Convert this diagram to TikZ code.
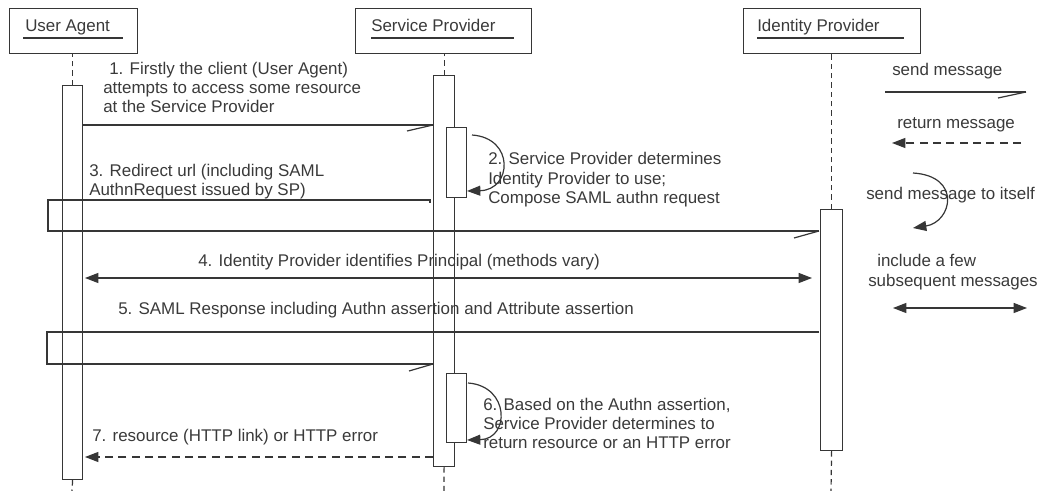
\documentclass[tikz,border=0pt]{standalone}
\usepackage{fontspec}
\setmainfont{Liberation Sans}
\usetikzlibrary{arrows.meta}
\definecolor{ln}{HTML}{363636}
\definecolor{tx}{HTML}{3A3A3A}
\begin{document}
\begin{tikzpicture}[x=0.75pt,y=-0.75pt,
  line/.style={draw=ln,line width=0.9pt},
  lbl/.style={anchor=base west,inner sep=0pt,text=tx,font=\fontsize{12.7}{14}\selectfont},
  actor/.style={draw=ln,line width=0.9pt,fill=white,anchor=north west,inner sep=0pt,minimum height=33.75pt},
  act/.style={draw=ln,line width=0.9pt,fill=white,anchor=north west,inner sep=0pt},
  life/.style={draw=ln,line width=0.9pt,dash pattern=on 4pt off 3pt},
  tri/.style={-{Triangle[length=10pt,width=7.5pt]}},
  bitri/.style={{Triangle[length=10pt,width=7.5pt]}-{Triangle[length=10pt,width=7.5pt]}},
  dsh/.style={dash pattern=on 6pt off 4pt}]
\useasboundingbox (0,0) rectangle (1042,491);

% actors
\node[actor,minimum width=96pt] (uaBox) at (9,8) {};
\node[actor,minimum width=132pt] (spBox) at (355,8) {};
\node[actor,minimum width=132.75pt] (idBox) at (743,8) {};
\node[lbl] (uaT) at (25,32) {User Agent};
\node[lbl] (spT) at (371,32) {Service Provider};
\node[lbl] (idT) at (757,32) {Identity Provider};
\draw[line] (23,38) -- (123,38);
\draw[line] (371,38) -- (514,38);
\draw[line] (757,38) -- (904,38);

% activation boxes
\node[act,minimum width=15pt,minimum height=295.5pt] (uaAct) at (62,85) {};
\node[act,minimum width=15.75pt,minimum height=293.25pt] (spAct) at (433,75) {};
\node[act,minimum width=15pt,minimum height=52.5pt] (spIn1) at (446,127) {};
\node[act,minimum width=15pt,minimum height=51.75pt] (spIn2) at (446,373) {};
\node[act,minimum width=16.5pt,minimum height=180.75pt] (idAct) at (820,209) {};

% lifelines
\coordinate (uaL) at (72,491);
\coordinate (spL) at (444,491);
\coordinate (idL) at (831,491);
\draw[life] (uaAct.north) -- (uaAct.north |- uaBox.south);
\draw[life] (uaAct.south) -- (uaL);
\draw[life] (spAct.north) -- (spAct.north |- spBox.south);
\draw[life] (spAct.south) -- (spL);
\draw[life] (idAct.north) -- (idAct.north |- idBox.south);
\draw[life] (idAct.south) -- (idL);

% message 1
\coordinate (m1s) at (82,125);
\coordinate (m1e) at (433,125);
\coordinate (m1b) at (407,131);
\draw[line] (m1s) -- (m1e);
\draw[line] (m1b) -- (m1e);
\node[lbl] (t1a) at (109,75) {1. Firstly the client (User Agent)};
\node[lbl] (t1b) at (103,94) {attempts to access some resource};
\node[lbl] (t1c) at (103,113) {at the Service Provider};

% message 2 (self)
\coordinate (m2s) at (472,135);
\coordinate (m2e) at (467,191);
\draw[line,tri] (m2s) .. controls (515,138) and (512,190) .. (m2e);
\node[lbl] (t2a) at (488,165) {2. Service Provider determines};
\node[lbl] (t2b) at (488,185) {Identity Provider to use;};
\node[lbl] (t2c) at (488,204) {Compose SAML authn request};

% message 3
\coordinate (m3s) at (430,200);
\coordinate (m3t) at (430,203);
\coordinate (m3a) at (48,200);
\coordinate (m3b) at (48,231);
\coordinate (m3e) at (819,231);
\coordinate (m3k) at (794,238);
\draw[line] (m3t) -- (m3s) -- (m3a) -- (m3b) -- (m3e);
\draw[line] (m3k) -- (m3e);
\node[lbl] (t3a) at (89,177) {3. Redirect url (including SAML};
\node[lbl] (t3b) at (89,196) {AuthnRequest issued by SP)};

% message 4
\coordinate (m4s) at (85,278);
\coordinate (m4e) at (812,278);
\draw[line,bitri] (m4s) -- (m4e);
\node[lbl] (t4) at (198,267) {4. Identity Provider identifies Principal (methods vary)};

% message 5
\coordinate (m5s) at (819,332);
\coordinate (m5a) at (47,332);
\coordinate (m5b) at (47,364);
\coordinate (m5e) at (433,364);
\coordinate (m5k) at (409,371);
\draw[line] (m5s) -- (m5a) -- (m5b) -- (m5e);
\draw[line] (m5k) -- (m5e);
\node[lbl] (t5) at (118,315) {5. SAML Response including Authn assertion and Attribute assertion};

% message 6 (self)
\coordinate (m6s) at (468,383);
\coordinate (m6e) at (467,440);
\draw[line,tri] (m6s) .. controls (510,386) and (510,439) .. (m6e);
\node[lbl] (t6a) at (483,411) {6. Based on the Authn assertion,};
\node[lbl] (t6b) at (483,429) {Service Provider determines to};
\node[lbl] (t6c) at (483,448) {return resource or an HTTP error};

% message 7
\coordinate (m7s) at (433,457);
\coordinate (m7e) at (85,457);
\draw[line,tri,dsh] (m7s) -- (m7e);
\node[lbl] (t7) at (92,441) {7. resource (HTTP link) or HTTP error};

% legend
\node[lbl] (lg1) at (892,76) {send message};
\coordinate (l1s) at (885,92);
\coordinate (l1e) at (1026,92);
\coordinate (l1k) at (998,98);
\draw[line] (l1s) -- (l1e);
\draw[line] (l1k) -- (l1e);
\node[lbl] (lg2) at (897,129) {return message};
\coordinate (l2s) at (1021,143);
\coordinate (l2e) at (892,143);
\draw[line,tri,dsh] (l2s) -- (l2e);
\node[lbl] (lg3) at (866,200) {send message to itself};
\coordinate (l3s) at (913,173);
\coordinate (l3e) at (913,228);
\draw[line,tri] (l3s) .. controls (962,176) and (952,222) .. (l3e);
\node[lbl] (lg4) at (877,267) {include a few};
\node[lbl] (lg5) at (868,287) {subsequent messages};
\coordinate (l4s) at (893,308);
\coordinate (l4e) at (1027,308);
\draw[line,bitri] (l4s) -- (l4e);
\end{tikzpicture}
\end{document}
